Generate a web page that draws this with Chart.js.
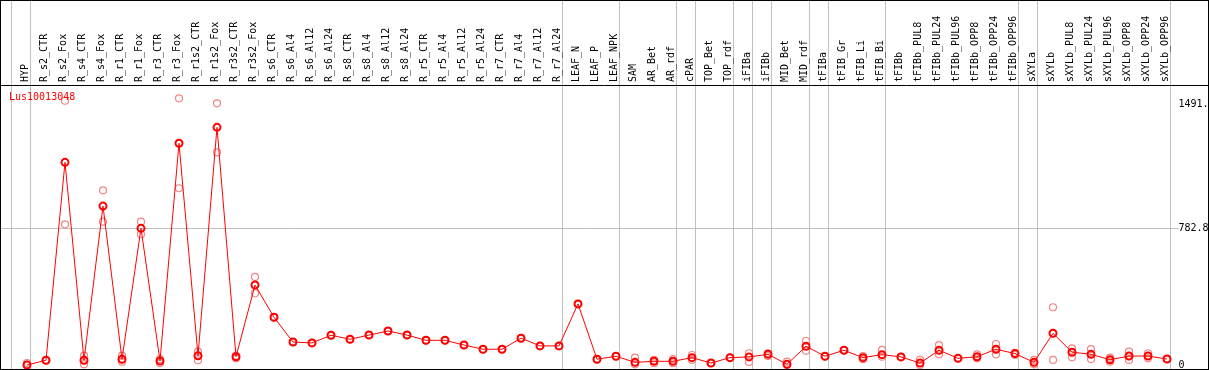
<!DOCTYPE html>
<html>
<head>
<meta charset="utf-8">
<title>Lus10013048</title>
<script src="https://cdn.jsdelivr.net/npm/chart.js@4.4.1/dist/chart.umd.min.js"></script>
<style>
    html, body { margin: 0; padding: 0; background: #fff; }
    canvas { display: block; }
</style>
</head>
<body>
<canvas id="exprChart" width="1209" height="370"></canvas>
<script>
// Sample names (x axis)
const categories = [
    'HYP', 'R_s2_CTR', 'R_s2_Fox', 'R_s4_CTR', 'R_s4_Fox', 'R_r1_CTR', 'R_r1_Fox',
    'R_r3_CTR', 'R_r3_Fox', 'R_r1s2_CTR', 'R_r1s2_Fox', 'R_r3s2_CTR', 'R_r3s2_Fox',
    'R_s6_CTR', 'R_s6_Al4', 'R_s6_Al12', 'R_s6_Al24', 'R_s8_CTR', 'R_s8_Al4',
    'R_s8_Al12', 'R_s8_Al24', 'R_r5_CTR', 'R_r5_Al4', 'R_r5_Al12', 'R_r5_Al24',
    'R_r7_CTR', 'R_r7_Al4', 'R_r7_Al12', 'R_r7_Al24', 'LEAF_N', 'LEAF_P', 'LEAF_NPK',
    'SAM', 'AR_Bet', 'AR_rdf', 'cPAR', 'TOP_Bet', 'TOP_rdf', 'iFIBa', 'iFIBb',
    'MID_Bet', 'MID_rdf', 'tFIBa', 'tFIB_Gr', 'tFIB_Li', 'tFIB_Bi', 'tFIBb',
    'tFIBb_PUL8', 'tFIBb_PUL24', 'tFIBb_PUL96', 'tFIBb_OPP8', 'tFIBb_OPP24', 'tFIBb_OPP96',
    'sXYLa', 'sXYLb', 'sXYLb_PUL8', 'sXYLb_PUL24', 'sXYLb_PUL96', 'sXYLb_OPP8',
    'sXYLb_OPP24', 'sXYLb_OPP96'
];

// Mean expression (red line)
const meanValues = [
    0, 27, 1158, 27, 908, 33, 781, 23, 1267, 53, 1358, 47, 457,
    273, 131, 126, 170, 147, 171, 194, 171, 141, 141, 114, 90, 90, 153, 109, 109,
    349, 33, 50, 15, 21, 21, 42, 11, 42, 46, 61, 4, 107, 50, 84, 42, 59, 46,
    11, 84, 38, 47, 90, 65, 15, 181, 73, 61, 30, 51, 51, 34
];

// Replicates (pale circles)
const rep1Values = [
    11, 27, 1510, 53, 998, 53, 819, 33, 1524, 76, 1495, 53, 503,
    273, 131, 126, 170, 147, 171, 194, 171, 141, 141, 114, 90, 90, 153, 109, 109,
    349, 33, 50, 42, 29, 33, 57, 11, 42, 67, 67, 19, 137, 50, 84, 51, 86, 46,
    29, 114, 38, 61, 120, 70, 29, 330, 95, 91, 42, 76, 67, 34
];
const rep2Values = [
    0, 27, 804, 4, 819, 19, 747, 10, 1010, 27, 1215, 38, 410,
    273, 131, 126, 170, 147, 171, 194, 171, 141, 141, 114, 90, 90, 153, 109, 109,
    349, 33, 50, 4, 10, 10, 29, 11, 42, 17, 51, 0, 82, 50, 84, 33, 47, 46,
    0, 61, 38, 38, 61, 57, 4, 29, 44, 34, 19, 29, 38, 34
];

// Right axis ticks
const yTickValues = [0, 782.8, 1491];
const yTickLabels = ['0', '782.8', '1491.'];

// Separator after these samples
const groupEnds = [
    'HYP', 'R_r7_Al24', 'LEAF_NPK', 'AR_rdf', 'cPAR', 'TOP_rdf', 'iFIBa', 'iFIBb',
    'MID_rdf', 'tFIBa', 'tFIB_Bi', 'tFIBb_OPP96', 'sXYLa', 'sXYLb_OPP96'
];

const geneName = 'Lus10013048';

const MONO = '"DejaVu Sans Mono", monospace';

/**
 * Gray separators, frame and gene label
 */
const framePlugin = {
    id: 'frame',
    beforeDraw(chart) {
        const ctx = chart.ctx;
        const x = chart.scales.x;
        const y = chart.scales.y;
        const area = chart.chartArea;
        const step = x.getPixelForValue(1) - x.getPixelForValue(0);

        ctx.save();
        ctx.strokeStyle = '#c0c0c0';
        ctx.lineWidth = 1;

        // vertical separators
        const xs = [x.getPixelForValue(0) - step + 3];
        groupEnds.forEach(name => {
            xs.push(x.getPixelForValue(categories.indexOf(name)) + 3);
        });
        xs.forEach(px => {
            const lx = Math.round(px) + 0.5;
            ctx.beginPath();
            ctx.moveTo(lx, 0);
            ctx.lineTo(lx, chart.height);
            ctx.stroke();
        });

        // middle horizontal grid line
        const gy = Math.round(y.getPixelForValue(yTickValues[1])) + 0.5;
        ctx.beginPath();
        ctx.moveTo(0, gy);
        ctx.lineTo(area.right + 2, gy);
        ctx.stroke();
        ctx.restore();
    },
    afterDraw(chart) {
        const ctx = chart.ctx;
        const area = chart.chartArea;

        ctx.save();
        ctx.strokeStyle = '#000';
        ctx.lineWidth = 1;
        ctx.strokeRect(0.5, 0.5, chart.width - 1, chart.height - 1);
        ctx.beginPath();
        ctx.moveTo(0, Math.round(area.top) + 0.5);
        ctx.lineTo(chart.width, Math.round(area.top) + 0.5);
        ctx.stroke();

        ctx.fillStyle = '#ff0000';
        ctx.font = '10px ' + MONO;
        ctx.textBaseline = 'middle';
        ctx.textAlign = 'left';
        ctx.fillText(geneName, 9, area.top + 12);
        ctx.restore();
    }
};

document.addEventListener('DOMContentLoaded', function() {
    initExprChart();
});

/**
 * Expression profile (line + replicates)
 */
function initExprChart() {
    const canvas = document.getElementById('exprChart');
    if (!canvas) return;

    const ctx = canvas.getContext('2d');

    const repStyle = {
        showLine: false,
        pointRadius: 3.5,
        pointBorderWidth: 1.2,
        pointBorderColor: '#f08585',
        pointBackgroundColor: 'rgba(0,0,0,0)',
        borderColor: '#f08585'
    };

    new Chart(ctx, {
        type: 'line',
        data: {
            labels: categories,
            datasets: [
                {
                    label: 'mean',
                    data: meanValues,
                    borderColor: '#ff0000',
                    borderWidth: 1,
                    tension: 0,
                    pointRadius: 3.5,
                    pointBorderWidth: 2,
                    pointBorderColor: '#ff0000',
                    pointBackgroundColor: 'rgba(0,0,0,0)'
                },
                Object.assign({ label: 'rep1', data: rep1Values }, repStyle),
                Object.assign({ label: 'rep2', data: rep2Values }, repStyle)
            ]
        },
        options: {
            responsive: false,
            animation: false,
            events: [],
            layout: {
                autoPadding: false,
                padding: { left: 17.5, right: 0, top: 0, bottom: 1 }
            },
            plugins: {
                legend: { display: false },
                tooltip: { enabled: false }
            },
            scales: {
                x: {
                    position: 'top',
                    offset: true,
                    grid: { display: false, drawTicks: false },
                    border: { display: false },
                    afterFit: scale => { scale.height = 85; },
                    ticks: {
                        autoSkip: false,
                        minRotation: 90,
                        maxRotation: 90,
                        padding: 3,
                        labelOffset: 10,
                        color: '#000',
                        font: { family: MONO, size: 10 }
                    }
                },
                y: {
                    position: 'right',
                    min: -23,
                    max: 1600,
                    grid: { display: false, drawTicks: false },
                    border: { display: false },
                    afterFit: scale => {
                        scale.width = 32.5;
                        // no extra room for the end labels
                        scale.paddingTop = 0;
                        scale.paddingBottom = 0;
                    },
                    afterBuildTicks: scale => {
                        scale.ticks = yTickValues.map(v => ({ value: v }));
                    },
                    ticks: {
                        padding: 2,
                        labelOffset: 0,
                        color: '#000',
                        font: { family: MONO, size: 10 },
                        callback: value => yTickLabels[yTickValues.indexOf(value)]
                    }
                }
            }
        },
        plugins: [framePlugin]
    });
}
</script>
</body>
</html>
